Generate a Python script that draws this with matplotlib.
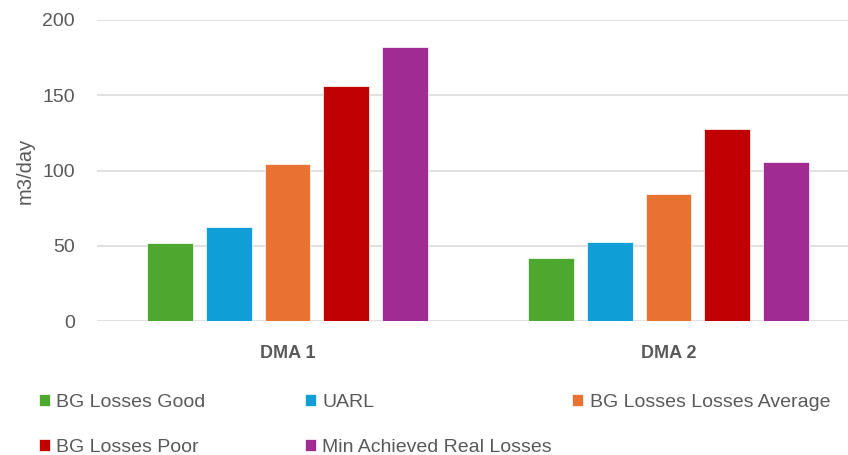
import matplotlib
matplotlib.use("Agg")
import matplotlib.pyplot as plt
import numpy as np

# Data (m3/day)
categories = ["DMA 1", "DMA 2"]
series_names = ["BG Losses Good", "UARL", "BG Losses Losses Average",
                "BG Losses Poor", "Min Achieved Real Losses"]
bg_good = [52, 42]
uarl = [62.5, 52.5]
bg_average = [104, 84.5]
bg_poor = [156, 127.5]
min_real = [182, 105.5]

colors = ["#4EA72E", "#0F9ED5", "#E97132", "#C00000", "#A02B93"]
text_color = "#595959"

plt.rcParams['font.family'] = ['Liberation Sans', 'DejaVu Sans']

fig = plt.figure(figsize=(8.48, 4.55), dpi=100)
ax = fig.add_axes([97/848, 1 - 321/455, 762/848, 301/455])

x = np.arange(len(categories))
pitch = 0.154
width = 0.1207
all_series = [bg_good, uarl, bg_average, bg_poor, min_real]
bars = []
for i, vals in enumerate(all_series):
    b = ax.bar(x + (i - 2) * pitch, vals, width, color=colors[i],
               edgecolor="white", linewidth=0.5, label=series_names[i], zorder=3)
    bars.append(b)

ax.set_xlim(-0.5, 1.5)
ax.set_ylim(0, 200)
ax.set_yticks([0, 50, 100, 150, 200])
ax.set_xticks(x)
ax.set_xticklabels(categories, fontweight="bold", fontsize=13, color=text_color)
ax.tick_params(axis="y", length=0, pad=16, labelsize=14, labelcolor=text_color)
ax.tick_params(axis="x", length=0, pad=17)
ax.grid(axis="y", color="#D9D9D9", linewidth=1.1, zorder=0)
ax.set_axisbelow(True)
for s in ax.spines.values():
    s.set_visible(False)

ax.set_ylabel("m3/day", fontsize=14.5, color=text_color)
ax.yaxis.set_label_coords(-0.082, 0.5)

# legend in three columns, filled row by row
col_groups = [[0, 3], [1, 4], [2]]
col_x = [39, 305, 572]
for xs, grp in zip(col_x, col_groups):
    leg = fig.legend([bars[k] for k in grp], [series_names[k] for k in grp],
                     loc="upper left", bbox_to_anchor=(xs / 848, 1 - 394 / 455),
                     frameon=False, fontsize=14, labelcolor=text_color,
                     handlelength=0.58, handleheight=0.58, handletextpad=0.32,
                     labelspacing=1.45, borderpad=0, borderaxespad=0)

fig.savefig("out.png", dpi=100)
